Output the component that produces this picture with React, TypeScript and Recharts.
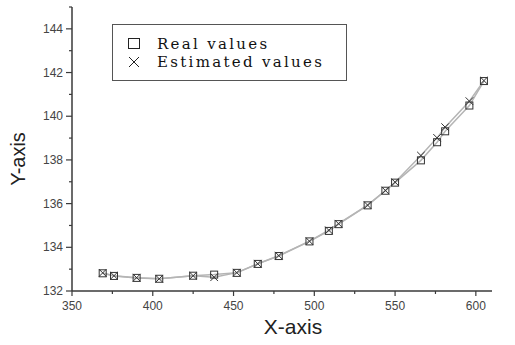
import { LineChart, Line, XAxis, YAxis, Legend } from "recharts"

// measured positions along the sweep
const xValues = [369, 376, 390, 404, 425, 438, 452, 465, 478, 497, 509, 515, 533, 544, 550, 566, 576, 581, 596, 605]
const realValues = [132.81, 132.69, 132.6, 132.56, 132.7, 132.75, 132.83, 133.24, 133.6, 134.27, 134.75, 135.06, 135.92, 136.59, 136.96, 137.98, 138.81, 139.31, 140.49, 141.61]
const estimatedValues = [132.83, 132.7, 132.61, 132.56, 132.7, 132.63, 132.84, 133.25, 133.62, 134.28, 134.78, 135.08, 135.93, 136.6, 136.98, 138.2, 139.01, 139.5, 140.69, 141.63]

const xTicks = [350, 375, 400, 425, 450, 475, 500, 525, 550, 575, 600]
const yTicks = [132, 133, 134, 135, 136, 137, 138, 139, 140, 141, 142, 143, 144, 145]

const realData = xValues.map((x, i) => ({ x, y: realValues[i] }))
const estData = xValues.map((x, i) => ({ x, y: estimatedValues[i] }))

const AXIS = "#3a3a3a"
const LINE = "#b5b5b5"
const MARK = "#333"
const sans = "Liberation Sans, Arial, sans-serif"
const serif = "DejaVu Serif, serif"

function XTick({ x, y, payload }: any) {
  const major = payload.value % 50 === 0
  return (
    <g>
      <line x1={x} x2={x} y1={y} y2={y + (major ? 5 : 3)} stroke={AXIS} strokeWidth={1.2} />
      {major && (
        <text x={x} y={y + 19} textAnchor="middle" fontSize={12} fontFamily={sans} fill="#444">
          {payload.value}
        </text>
      )}
    </g>
  )
}

function YTick({ x, y, payload }: any) {
  const major = payload.value % 2 === 0
  return (
    <g>
      <line x1={x} x2={x - (major ? 6 : 3)} y1={y} y2={y} stroke={AXIS} strokeWidth={1.2} />
      {major && (
        <text x={x - 9} y={y + 4} textAnchor="end" fontSize={12} fontFamily={sans} fill="#444">
          {payload.value}
        </text>
      )}
    </g>
  )
}

function SquareDot({ cx, cy, index }: any) {
  return <rect key={"s" + index} x={cx - 3.5} y={cy - 3.5} width={7} height={7} fill="none" stroke={MARK} strokeWidth={1} />
}

function CrossDot({ cx, cy, index }: any) {
  const r = 3.8
  return (
    <path
      key={"c" + index}
      d={`M${cx - r},${cy - r}L${cx + r},${cy + r}M${cx - r},${cy + r}L${cx + r},${cy - r}`}
      stroke={MARK}
      strokeWidth={1}
      fill="none"
    />
  )
}

function LegendBox() {
  const row = { display: "flex", alignItems: "center", height: 18 }
  const txt = { fontFamily: serif, fontSize: 15, letterSpacing: 2.3, color: "#111", marginLeft: 17 }
  return (
    <div
      style={{
        width: 235,
        height: 57,
        boxSizing: "border-box",
        border: "1.5px solid #555",
        background: "#fff",
        padding: "10px 0 0 15px",
      }}
    >
      <div style={row}>
        <svg width={12} height={12}>
          <rect x={0.5} y={0.5} width={11} height={10} fill="none" stroke="#222" strokeWidth={1} />
        </svg>
        <span style={txt}>Real values</span>
      </div>
      <div style={row}>
        <svg width={12} height={12}>
          <path d="M1,1L11,11M1,11L11,1" stroke="#222" strokeWidth={1} />
        </svg>
        <span style={txt}>Estimated values</span>
      </div>
    </div>
  )
}

export default function App() {
  return (
    <div style={{ position: "absolute", left: 0, top: 0, background: "#fff" }}>
      <LineChart width={515} height={345} margin={{ top: 7, right: 23, bottom: 24, left: 0 }}>
        <XAxis
          dataKey="x"
          type="number"
          domain={[350, 610]}
          ticks={xTicks}
          interval={0}
          allowDuplicatedCategory={false}
          tickSize={0}
          tickMargin={0}
          tickLine={false}
          height={30}
          stroke={AXIS}
          strokeWidth={1.5}
          tick={<XTick />}
          label={() => (
            <text x={293} y={334} textAnchor="middle" fontSize={21} fontFamily={sans} fill="#222">
              X-axis
            </text>
          )}
        />
        <YAxis
          dataKey="y"
          type="number"
          domain={[132, 145]}
          ticks={yTicks}
          interval={0}
          tickSize={0}
          tickMargin={0}
          tickLine={false}
          width={72}
          stroke={AXIS}
          strokeWidth={1.5}
          tick={<YTick />}
          label={() => (
            <text x={25} y={159} textAnchor="middle" fontSize={20} fontFamily={sans} fill="#222" transform="rotate(-90 25 159)">
              Y-axis
            </text>
          )}
        />
        <Legend
          layout="vertical"
          align="center"
          verticalAlign="middle"
          wrapperStyle={{ left: 112, top: 24, width: 235 }}
          content={() => <LegendBox />}
        />
        <Line
          data={realData}
          dataKey="y"
          name="Real values"
          type="linear"
          stroke={LINE}
          strokeWidth={1.5}
          dot={SquareDot}
          activeDot={false}
          isAnimationActive={false}
        />
        <Line
          data={estData}
          dataKey="y"
          name="Estimated values"
          type="linear"
          stroke={LINE}
          strokeWidth={1.5}
          dot={CrossDot}
          activeDot={false}
          isAnimationActive={false}
        />
      </LineChart>
    </div>
  )
}
